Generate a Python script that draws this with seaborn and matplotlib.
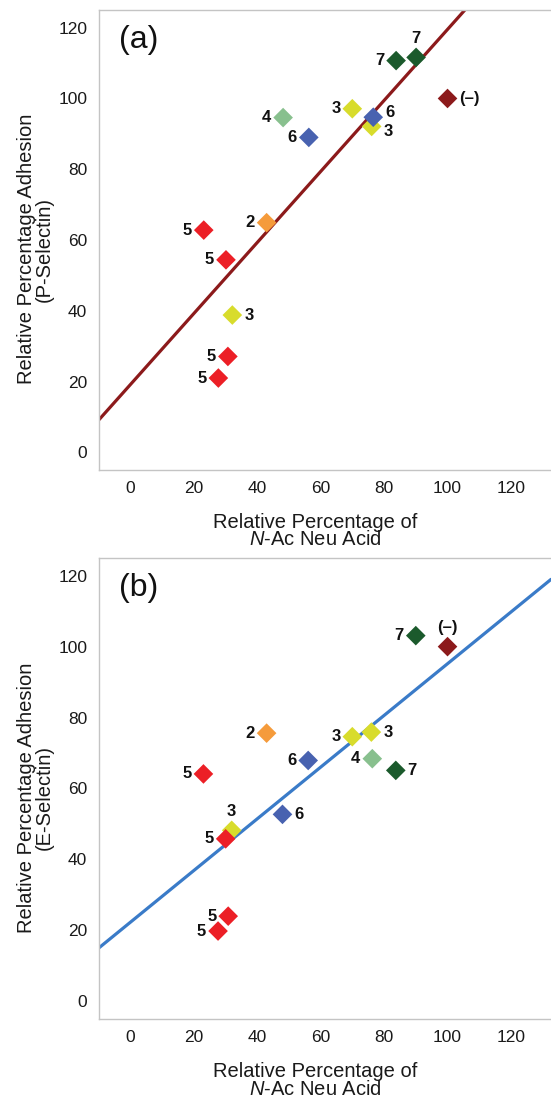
import matplotlib
matplotlib.use("Agg")
import matplotlib.pyplot as plt
import seaborn as sns
import pandas as pd

# panel (a): P-Selectin adhesion vs N-Ac Neu acid
a_x = [83.8, 90.1, 100, 70, 76.1, 76.6, 48.2, 56.3, 43, 23.2, 30.2, 32.2, 30.8, 27.8]
a_y = [110.7, 111.6, 100, 97.1, 92.1, 94.7, 94.6, 89, 64.9, 62.8, 54.4, 38.8, 27.1, 21.0]
a_lab = ['7', '7', '(–)', '3', '3', '6', '4', '6', '2', '5', '5', '3', '5', '5']
a_side = ['l', 'u', 'r', 'l', 'rd', 'ru', 'l', 'l', 'l', 'l', 'l', 'r', 'l', 'l']

# panel (b): E-Selectin adhesion vs N-Ac Neu acid
b_x = [90, 100, 43, 70, 76, 76.3, 83.7, 56.1, 23.1, 48, 32, 30.1, 30.9, 27.7]
b_y = [103.1, 100, 75.6, 74.6, 75.9, 68.4, 65.1, 67.9, 64.1, 52.7, 48.2, 45.8, 24.0, 19.8]
b_lab = ['7', '(–)', '2', '3', '3', '4', '7', '6', '5', '6', '3', '5', '5', '5']
b_side = ['l', 'u', 'l', 'l', 'r', 'l', 'r', 'l', 'l', 'r', 'u', 'l', 'l', 'l']

grp_colors = {'2': '#f59b3b', '3': '#d8dc2c', '4': '#88c08e', '5': '#ec1f26',
              '6': '#4862b0', '7': '#1b5a2c', '(–)': '#8c1a1b'}

sns.set_style("white")
plt.rcParams['font.family'] = ['Liberation Sans', 'DejaVu Sans']
plt.rcParams['mathtext.fontset'] = 'custom'
plt.rcParams['mathtext.rm'] = 'Liberation Sans'
plt.rcParams['mathtext.it'] = 'Liberation Sans:italic'

# label offsets in points
offs = {'l': ((-8.5, 0), 'right', 'center'), 'r': ((8.5, 0), 'left', 'center'),
        'u': ((0, 8.5), 'center', 'bottom'), 'ru': ((8.5, 3.5), 'left', 'center'),
        'rd': ((8.5, -3.5), 'left', 'center')}

fig = plt.figure(figsize=(5.51, 10.99), dpi=100)
ax1 = fig.add_axes([0.1797, 0.5723, 0.8203, 0.4186])
ax2 = fig.add_axes([0.1797, 0.0728, 0.8203, 0.4195])


def panel(ax, xs, ys, labs, sides, line_col, tag, ylab):
    ax.set_xlim(-9.8, 132.6)
    ax.set_ylim(-5, 125)
    # trend line across the whole axis
    sns.regplot(x=xs, y=ys, ax=ax, scatter=False, ci=None, truncate=False,
                line_kws=dict(color=line_col, lw=2.3))
    df = pd.DataFrame({'x': xs, 'y': ys, 'grp': labs})
    sns.scatterplot(data=df, x='x', y='y', hue='grp', palette=grp_colors,
                    marker='D', s=100, linewidth=0, legend=False, ax=ax, zorder=3)
    for x, y, t, sd in zip(xs, ys, labs, sides):
        off, ha, va = offs[sd]
        ax.annotate(t, (x, y), xytext=off, textcoords='offset points',
                    ha=ha, va=va, fontsize=12, fontweight='bold', color='#111111')
    ax.set_xlim(-9.8, 132.6)
    ax.set_ylim(-5, 125)
    ax.set_xticks([0, 20, 40, 60, 80, 100, 120])
    ax.set_yticks([0, 20, 40, 60, 80, 100, 120])
    ax.tick_params(axis='y', direction='in', length=6, color='#c4c4c4', pad=8.5,
                   labelsize=12.5, labelcolor='#1a1a1a')
    ax.tick_params(axis='x', length=0, pad=8, labelsize=12.5, labelcolor='#1a1a1a')
    for s in ['left', 'bottom', 'top']:
        ax.spines[s].set_color('#c4c4c4')
        ax.spines[s].set_linewidth(1.0)
    ax.spines['right'].set_visible(False)
    ax.set_xlabel("Relative Percentage of\n$\\it{N}$-Ac Neu Acid", fontsize=14.5,
                  color='#1a1a1a', linespacing=0.88)
    ax.xaxis.set_label_coords(0.479, -0.094)
    ax.set_ylabel(ylab, fontsize=14.5, color='#1a1a1a', linespacing=0.95)
    ax.yaxis.set_label_coords(-0.1, 0.48)
    ax.text(0.045, 0.935, tag, transform=ax.transAxes, fontsize=23,
            ha='left', va='center', color='#111111')


panel(ax1, a_x, a_y, a_lab, a_side, '#8c1a1b', '(a)',
      "Relative Percentage Adhesion\n(P-Selectin)")
panel(ax2, b_x, b_y, b_lab, b_side, '#3a7bc8', '(b)',
      "Relative Percentage Adhesion\n(E-Selectin)")

fig.savefig('out.png', dpi=100)
